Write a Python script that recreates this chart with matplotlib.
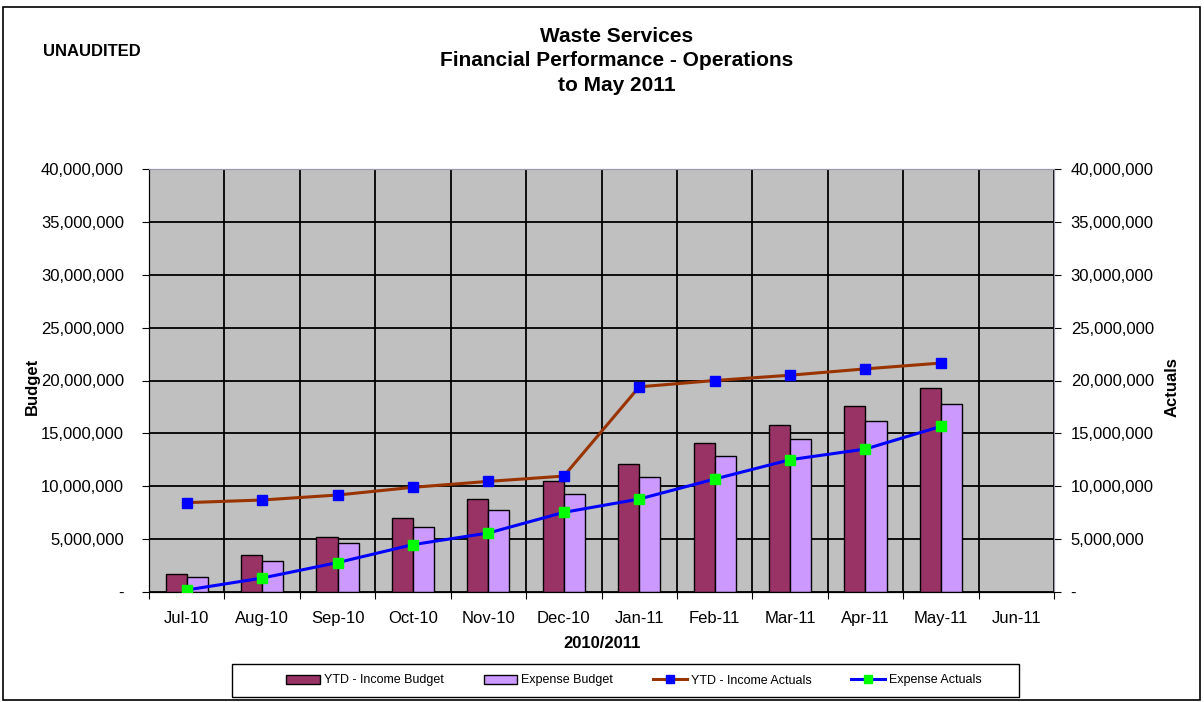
import numpy as np
import matplotlib
matplotlib.use("Agg")
from matplotlib import pyplot as plt
from matplotlib.patches import Rectangle, Patch
from matplotlib.lines import Line2D
from matplotlib.ticker import FuncFormatter, FixedLocator

plt.rcParams["font.family"] = ["Liberation Sans", "DejaVu Sans"]

# dados (valores em reais, acumulado no ano)
meses = ["Jul-10", "Aug-10", "Sep-10", "Oct-10", "Nov-10", "Dec-10",
         "Jan-11", "Feb-11", "Mar-11", "Apr-11", "May-11", "Jun-11"]
income_budget = [1.74e6, 3.49e6, 5.23e6, 6.98e6, 8.75e6, 10.51e6,
                 12.1e6, 14.05e6, 15.8e6, 17.55e6, 19.3e6, np.nan]
expense_budget = [1.45e6, 2.96e6, 4.62e6, 6.13e6, 7.74e6, 9.25e6,
                  10.85e6, 12.87e6, 14.5e6, 16.13e6, 17.77e6, np.nan]
income_actuals = [8.45e6, 8.7e6, 9.17e6, 9.9e6, 10.46e6, 10.96e6,
                  19.4e6, 20.0e6, 20.5e6, 21.1e6, 21.65e6, np.nan]
expense_actuals = [0.19e6, 1.32e6, 2.78e6, 4.48e6, 5.58e6, 7.53e6,
                   8.79e6, 10.68e6, 12.51e6, 13.52e6, 15.66e6, np.nan]

cor_income = "#993366"
cor_expense = "#CC99FF"
cor_linha_income = "#993300"

fig = plt.figure(figsize=(12.04, 7.02), dpi=100)
ax = fig.add_axes([149/1204, 1-592/702, (1054-149)/1204, (592-169)/702])
ax.set_facecolor("#C0C0C0")

x = np.arange(len(meses))
larg = 0.28
ax.bar(x - larg/2, income_budget, larg, color=cor_income, edgecolor="black", linewidth=1, zorder=3)
ax.bar(x + larg/2, expense_budget, larg, color=cor_expense, edgecolor="black", linewidth=1, zorder=3)

ax2 = ax.twinx()
ax2.plot(x, income_actuals, color=cor_linha_income, lw=2.2, marker="s", ms=7.5,
         mfc="#0000FF", mec="#0000FF", zorder=4)
ax2.plot(x, expense_actuals, color="#0000FF", lw=2.2, marker="s", ms=7.5,
         mfc="#00FF00", mec="#00FF00", zorder=4)

fmt = FuncFormatter(lambda v, p: "-" if v == 0 else f"{v:,.0f}")
for a in (ax, ax2):
    a.set_ylim(0, 40e6)
    a.set_yticks(np.arange(0, 40e6 + 1, 5e6))
    a.yaxis.set_major_formatter(fmt)
    a.set_xlim(-0.5, 11.5)

ax.tick_params(axis="y", labelsize=12, length=5, pad=13)
ax2.tick_params(axis="y", labelsize=12, length=5, pad=7)

ax.xaxis.set_major_locator(FixedLocator(np.arange(-0.5, 12, 1)))
ax.xaxis.set_minor_locator(FixedLocator(x))
ax.xaxis.set_major_formatter(FuncFormatter(lambda v, p: ""))
ax.set_xticklabels(meses, minor=True)
ax.tick_params(axis="x", which="major", length=5, direction="out")
ax.tick_params(axis="x", which="minor", length=0, labelsize=12, pad=14)

ax.grid(True, which="major", color="black", lw=1.3, zorder=1)
ax.set_axisbelow(True)
for s in ("top", "right"):
    ax.spines[s].set_color("#9999AA")
    ax2.spines[s].set_color("#9999AA")
ax.spines["bottom"].set_color("black")

# textos
fig.text(0.5125, 1-27/702, "Waste Services\nFinancial Performance - Operations\nto May 2011",
         ha="center", va="top", fontsize=15, fontweight="bold", linespacing=1.36)
fig.text(43/1204, 1-52/702, "UNAUDITED", ha="left", va="center", fontsize=12, fontweight="bold")
fig.text(32/1204, 1-386/702, "Budget", rotation=90, ha="center", va="center", fontsize=12, fontweight="bold")
fig.text(1172/1204, 1-387/702, "Actuals", rotation=90, ha="center", va="center", fontsize=12, fontweight="bold")
fig.text(602/1204, 1-643/702, "2010/2011", ha="center", va="center", fontsize=12, fontweight="bold")

# legenda
handles = [
    Patch(facecolor=cor_income, edgecolor="black"),
    Patch(facecolor=cor_expense, edgecolor="black"),
    Line2D([], [], color=cor_linha_income, lw=2.2, marker="s", ms=6, mfc="#0000FF", mec="#0000FF"),
    Line2D([], [], color="#0000FF", lw=2.2, marker="s", ms=6, mfc="#00FF00", mec="#00FF00"),
]
labels = ["YTD - Income Budget", "Expense Budget", "YTD - Income Actuals", "Expense Actuals"]
fig.legend(handles, labels, loc="center", bbox_to_anchor=(634/1204, 1-680.5/702), ncol=4,
           frameon=False, fontsize=9, handlelength=2.7, handletextpad=0.3, columnspacing=3.2)
fig.add_artist(Rectangle((232/1204, 1-697/702), (1019-232)/1204, 33/702, transform=fig.transFigure,
                         fill=False, edgecolor="black", lw=1))
fig.add_artist(Rectangle((3/1204, 1-700/702), 1197/1204, 693/702, transform=fig.transFigure,
                         fill=False, edgecolor="black", lw=1.2))

plt.savefig("out.png", dpi=100)
